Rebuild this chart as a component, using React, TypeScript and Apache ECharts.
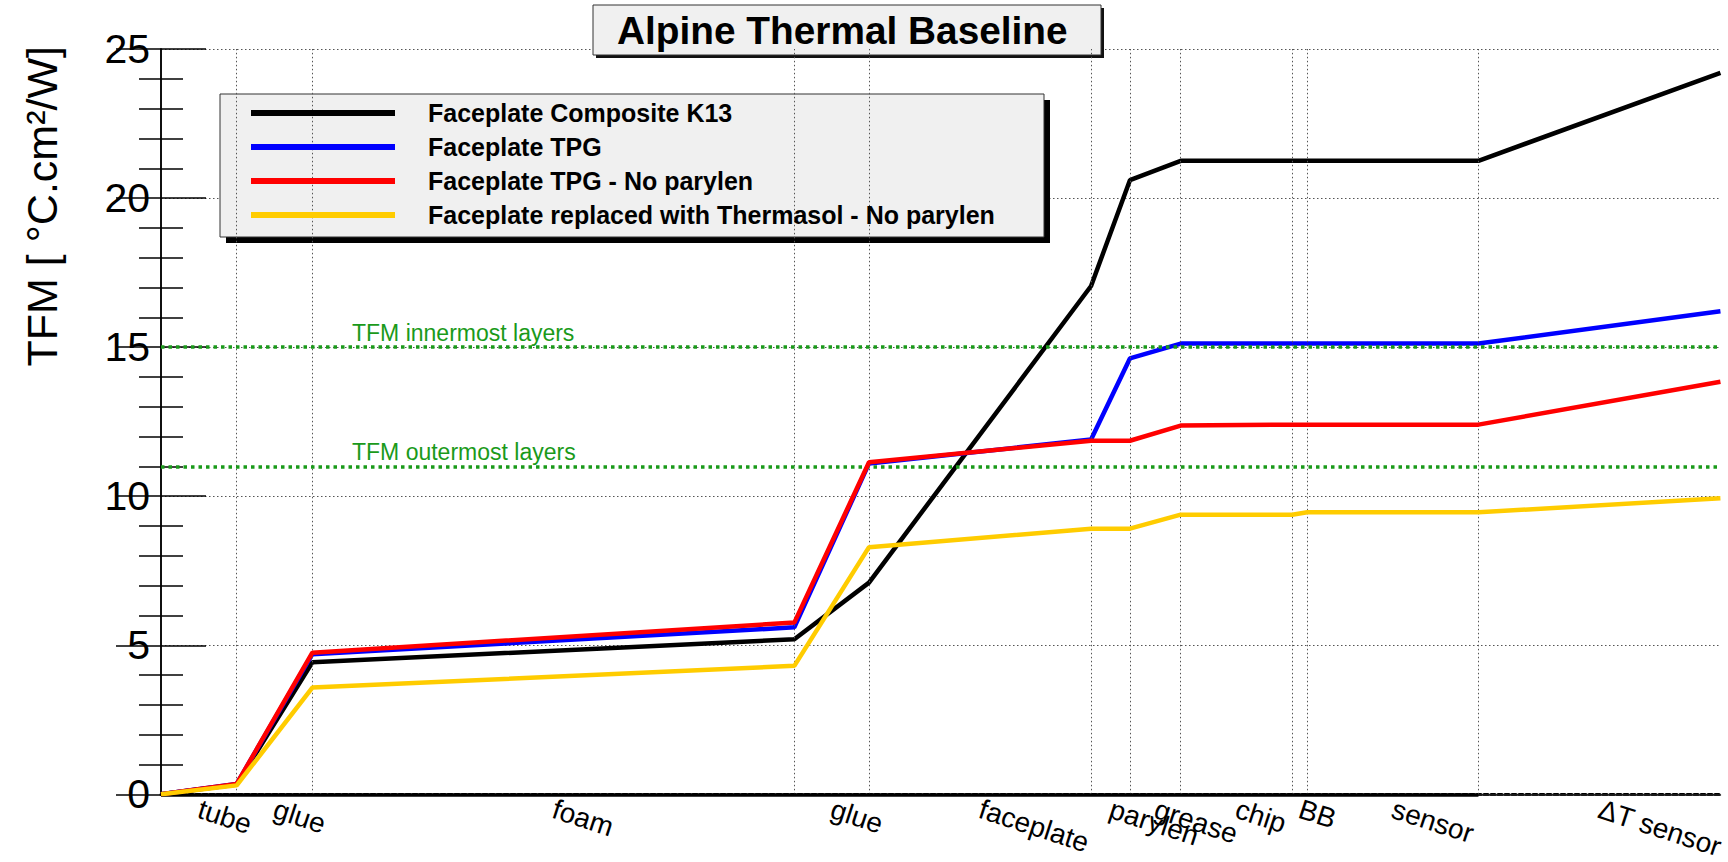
import React, { useEffect, useRef } from "react";
import * as echarts from "echarts";

// Layer names and layer boundaries (cumulative position, arbitrary units)
const layerNames = ["tube", "glue", "foam", "glue", "faceplate", "parylen", "grease", "chip", "BB", "sensor", "ΔT sensor"];
const boundaries = [0, 76, 152, 636, 711, 934, 973, 1024, 1136, 1151, 1323, 1566];

// Cumulative TFM at each boundary
const seriesNames = [
  "Faceplate Composite K13",
  "Faceplate TPG",
  "Faceplate TPG - No parylen",
  "Faceplate replaced with Thermasol - No parylen",
];
const composite = [0, 0.33, 4.43, 5.2, 7.1, 17.05, 20.6, 21.25, 21.25, 21.25, 21.25, 24.2];
const tpg = [0, 0.35, 4.7, 5.6, 11.1, 11.9, 14.62, 15.12, 15.12, 15.12, 15.12, 16.2];
const tpgNoParylen = [0, 0.35, 4.75, 5.76, 11.14, 11.86, 11.86, 12.37, 12.4, 12.4, 12.4, 13.84];
const thermasol = [0, 0.3, 3.58, 4.31, 8.29, 8.91, 8.91, 9.38, 9.38, 9.46, 9.46, 9.93];
const seriesValues = [composite, tpg, tpgNoParylen, thermasol];
const seriesColors = ["#000000", "#0000ff", "#ff0000", "#ffcc00"];

// Reference TFM levels
const tfmLevels = [15, 11];
const tfmLabels = ["TFM innermost layers", "TFM outermost layers"];

const yMin = 0;
const yMax = 25;
const yInterval = 5;

const FONT = "'Liberation Sans', Arial, Helvetica, sans-serif";

export default function App() {
  const ref = useRef<HTMLDivElement>(null);

  useEffect(() => {
    if (!ref.current) return;
    const chart = echarts.init(ref.current, undefined, { renderer: "svg" });

    const centers = layerNames.map((_, i) => (boundaries[i] + boundaries[i + 1]) / 2);
    const xMax = boundaries[boundaries.length - 1];
    const sensorEnd = boundaries[boundaries.length - 2];

    const gridDotted = { color: "#555", width: 1, type: [1.5, 2.5] as any };

    const markSeries: any = {
      type: "line",
      name: "__marks",
      data: [],
      silent: true,
      clip: false,
      z: 1,
      markLine: {
        silent: true,
        symbol: "none",
        animation: false,
        data: [
          ...boundaries.slice(1, -1).map((x) => ({
            xAxis: x,
            lineStyle: gridDotted,
            label: { show: false },
          })),
          [
            { coord: [0, 0], lineStyle: { color: "#000", width: 3.5, type: "solid" }, label: { show: false } },
            { coord: [sensorEnd, 0] },
          ],
          ...tfmLevels.map((v, i) => ({
            yAxis: v,
            lineStyle: { color: "#1a9a1a", width: 3.5, type: [3.5, 4] },
            label: {
              show: true,
              position: "insideStartTop",
              formatter: tfmLabels[i],
              color: "#1a9a1a",
              fontSize: 23,
              fontFamily: FONT,
              distance: 3,
              padding: [0, 0, 0, 188],
            },
          })),
        ],
      },
    };

    const dataSeries = seriesNames.map((name, si) => ({
      type: "line",
      name,
      data: boundaries.map((x, i) => [x, seriesValues[si][i]]),
      symbol: "none",
      showSymbol: false,
      color: seriesColors[si],
      lineStyle: { color: seriesColors[si], width: 4.5 },
      z: 3 + si,
    }));

    chart.setOption({
      animation: false,
      title: {
        text: "Alpine Thermal Baseline",
        left: 617,
        top: 11,
        padding: 0,
        textStyle: { fontSize: 38.8, fontWeight: "bold", color: "#000", fontFamily: FONT, lineHeight: 39 },
        z: 7,
      },
      grid: { left: 161, right: 1, top: 49, bottom: 66 },
      legend: {
        orient: "vertical",
        left: 251,
        top: 96,
        padding: 0,
        itemWidth: 144,
        itemHeight: 6,
        itemGap: 0,
        icon: "rect",
        selectedMode: false,
        data: seriesNames,
        textStyle: {
          fontSize: 25,
          fontWeight: "bold",
          color: "#000",
          fontFamily: FONT,
          lineHeight: 34,
          padding: [0, 0, 0, 28],
        },
        z: 8,
      },
      xAxis: [
        {
          type: "value",
          min: 0,
          max: xMax,
          position: "bottom",
          axisLine: { show: true, onZero: false, lineStyle: { color: "#000", width: 3, type: [4, 3] } },
          axisTick: { show: false },
          splitLine: { show: false },
          axisLabel: {
            customValues: centers,
            formatter: (v: number) => {
              const idx = centers.findIndex((c) => Math.abs(c - v) < 1e-6);
              return idx >= 0 ? layerNames[idx] : "";
            },
            rotate: -18,
            margin: 14,
            fontSize: 28,
            color: "#000",
            fontFamily: FONT,
          },
        },
        {
          type: "value",
          min: 0,
          max: xMax,
          position: "top",
          axisLine: { show: true, lineStyle: { color: "#222", width: 1.5 } },
          axisTick: { show: false },
          axisLabel: { show: false },
          splitLine: { show: false },
        },
      ],
      yAxis: [
        {
          type: "value",
          min: yMin,
          max: yMax,
          interval: yInterval,
          position: "left",
          axisLine: { show: true, lineStyle: { color: "#000", width: 1.5 } },
          axisTick: { show: true, inside: true, length: 45, lineStyle: { color: "#000", width: 1.5 } },
          minorTick: { show: true, splitNumber: 5, length: 22, lineStyle: { color: "#000", width: 1.5 } },
          axisLabel: { fontSize: 41, margin: 11, color: "#000", fontFamily: FONT },
          splitLine: { show: true, lineStyle: gridDotted },
        },
        {
          type: "value",
          min: yMin,
          max: yMax,
          interval: yInterval,
          position: "right",
          axisLine: { show: true, lineStyle: { color: "#000", width: 1.5 } },
          axisTick: { show: true, inside: true, length: 45, lineStyle: { color: "#000", width: 1.5 } },
          minorTick: { show: true, splitNumber: 5, length: 22, lineStyle: { color: "#000", width: 1.5 } },
          axisLabel: { show: false },
          splitLine: { show: false },
        },
      ],
      graphic: [
        // legend box with shadow
        { type: "rect", z: 1, shape: { x: 226, y: 100, width: 824, height: 143 }, style: { fill: "#000" }, silent: true },
        { type: "rect", z: 1, shape: { x: 220, y: 94, width: 824, height: 143 }, style: { fill: "#f0f0f0", stroke: "#333", lineWidth: 1 }, silent: true },
        // title box with shadow
        { type: "rect", z: 5, shape: { x: 596, y: 8, width: 508, height: 50 }, style: { fill: "#111" }, silent: true },
        { type: "rect", z: 5, shape: { x: 593, y: 5, width: 508, height: 50 }, style: { fill: "#f0f0f0", stroke: "#333", lineWidth: 1 }, silent: true },
        // y axis title
        {
          type: "text",
          z: 5,
          x: 42,
          y: 46,
          rotation: Math.PI / 2,
          silent: true,
          style: {
            text: "TFM [ °C.cm²/W]",
            fill: "#000",
            font: `43px ${FONT}`,
            fontSize: 43,
            fontFamily: FONT,
            align: "right",
            verticalAlign: "middle",
            textAlign: "right",
            textVerticalAlign: "middle",
          },
        },
      ],
      series: [markSeries, ...dataSeries],
    });

    return () => chart.dispose();
  }, []);

  return (
    <div
      ref={ref}
      style={{ position: "fixed", left: 0, top: 0, width: 1728, height: 862, background: "#fff" }}
    />
  );
}
